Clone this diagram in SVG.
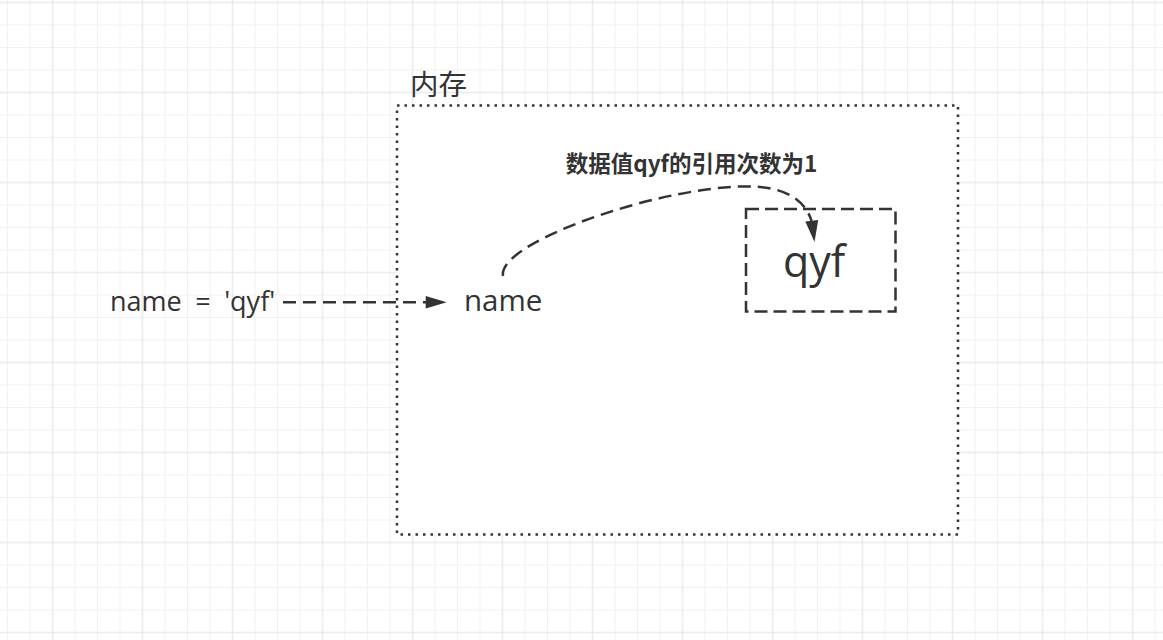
<svg xmlns="http://www.w3.org/2000/svg" width="1163" height="640" viewBox="0 0 1163 640">
<defs>
<pattern id="gMinor" patternUnits="userSpaceOnUse" x="-3.75" y="-8.75" width="22.5" height="22.5">
<path d="M0 11.25 H22.5 M11.25 0 V22.5" stroke="#f1f1f1" stroke-width="1" fill="none"/>
</pattern>
<pattern id="gMajor" patternUnits="userSpaceOnUse" x="7.5" y="-42.5" width="90" height="90">
<path d="M0 45 H90 M45 0 V90" stroke="#e6e6e6" stroke-width="1" fill="none"/>
</pattern>
<style>
.txt{font-family:"Open Sans","Noto Sans","Noto Sans CJK SC",sans-serif;fill:#333333}
.cjk{font-family:"Noto Sans CJK SC","Noto Sans",sans-serif;fill:#333333}
.dash{fill:none;stroke:#333333;stroke-width:2.5;stroke-dasharray:13 7}
.head{fill:#333333;stroke:none}
</style>
</defs>
<rect width="1163" height="640" fill="#ffffff"/>
<rect width="1163" height="640" fill="url(#gMinor)"/>
<rect width="1163" height="640" fill="url(#gMajor)"/>

<g id="memory">
<rect x="397" y="105.5" width="561" height="429" fill="#ffffff" stroke="#333333" stroke-width="2.5" stroke-dasharray="2.5 5"/>
<text class="cjk" x="410" y="95" font-size="28.5">内存</text>
</g>

<g id="assign">
<text class="txt" x="110" y="311" font-size="27" word-spacing="6.5" xml:space="preserve">name = 'qyf'</text>
</g>

<g id="name-var">
<text class="txt" x="464" y="311" font-size="29.5">name</text>
</g>

<g id="qyf-value">
<rect x="746" y="209" width="149.5" height="102.5" fill="none" stroke="#333333" stroke-width="2.5" stroke-dasharray="13 6"/>
<text class="txt" x="783" y="277" font-size="43">qyf</text>
</g>

<g id="label">
<text class="cjk" x="691.5" y="171.5" font-size="22.5" font-weight="bold" text-anchor="middle">数据值qyf的引用次数为1</text>
</g>

<g id="connectors">
<path class="dash" d="M283 302.3 H426"/>
<polygon class="head" points="425.7,296 446.7,302.3 425.7,308.5"/>
<path class="dash" d="M503 276 C497 240 680 180 760 187 C790 189.6 806 203 811.5 221"/>
<polygon class="head" points="805.3,221.6 814.5,242 818.2,219.9"/>
</g>
</svg>
